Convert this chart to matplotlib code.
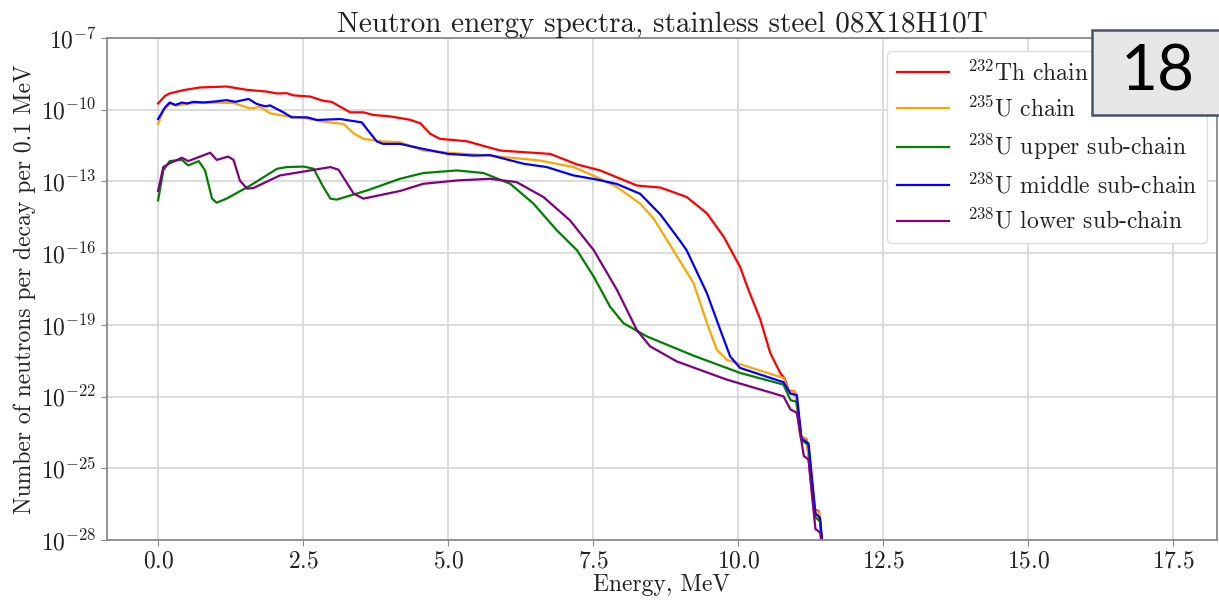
import numpy as np
import matplotlib
matplotlib.use('Agg')
import matplotlib.pyplot as plt
from matplotlib.patches import Rectangle

plt.rcParams['font.family'] = 'serif'
plt.rcParams['font.serif'] = ['cmr10']
plt.rcParams['mathtext.fontset'] = 'cm'
plt.rcParams['axes.formatter.use_mathtext'] = True

# energies (MeV) and log10 of neutrons per decay per 0.1 MeV
th232_e = [0, 0.12, 0.2, 0.44, 0.72, 1.18, 1.53, 1.87, 2.05, 2.22, 2.33, 2.62, 2.85, 2.99,
           3.31, 3.54, 3.71, 4.0, 4.34, 4.52, 4.69, 4.86, 5.32, 5.90, 6.76, 7.22, 7.62, 7.97,
           8.25, 8.66, 9.11, 9.46, 9.75, 10.03, 10.17, 10.38, 10.55, 10.72, 10.80, 10.87,
           10.98, 11.07, 11.18, 11.30, 11.39, 11.48]
th232_log = [-9.74, -9.42, -9.32, -9.18, -9.07, -9.03, -9.17, -9.24, -9.32, -9.31, -9.40,
             -9.45, -9.63, -9.67, -10.11, -10.11, -10.22, -10.28, -10.42, -10.57, -11.01,
             -11.22, -11.32, -11.71, -11.85, -12.29, -12.54, -12.89, -13.17, -13.26, -13.65,
             -14.34, -15.32, -16.57, -17.5, -18.78, -20.17, -21.0, -21.25, -21.75, -21.80,
             -23.65, -23.80, -26.70, -26.80, -29]

u235_e = [0, 0.09, 0.2, 0.32, 0.55, 0.78, 1.30, 1.59, 1.76, 1.93, 2.16, 2.45, 2.85, 3.20,
          3.37, 3.54, 3.88, 4.17, 4.57, 5.0, 5.72, 6.59, 7.16, 7.56, 7.91, 8.31, 8.54, 8.88,
          9.23, 9.46, 9.63, 9.80, 10.15, 10.78, 10.87, 10.98, 11.07, 11.18, 11.30, 11.39, 11.48]
u235_log = [-10.60, -10.04, -9.76, -9.83, -9.74, -9.70, -9.72, -9.95, -9.88, -10.15, -10.25,
            -10.32, -10.50, -10.60, -10.99, -11.22, -11.33, -11.36, -11.71, -11.80, -11.92,
            -12.13, -12.40, -12.82, -13.24, -13.93, -14.55, -15.88, -17.26, -18.93, -20.04,
            -20.46, -20.74, -21.22, -21.78, -21.80, -23.68, -23.82, -26.74, -26.83, -29]

u238_up_e = [0, 0.09, 0.2, 0.41, 0.52, 0.70, 0.81, 0.93, 1.01, 1.18, 1.59, 2.05, 2.22, 2.51,
             2.68, 2.85, 2.97, 3.08, 3.60, 4.17, 4.57, 5.15, 5.61, 6.07, 6.47, 6.87, 7.22,
             7.51, 7.79, 8.02, 8.43, 9.23, 10.03, 10.78, 10.90, 11.01, 11.09, 11.21, 11.33,
             11.41, 11.48]
u238_up_log = [-13.79, -12.54, -12.15, -12.10, -12.33, -12.15, -12.54, -13.72, -13.89, -13.72,
               -13.17, -12.47, -12.40, -12.38, -12.47, -13.24, -13.72, -13.76, -13.38, -12.89,
               -12.65, -12.54, -12.65, -13.10, -13.93, -15.04, -15.88, -16.99, -18.24, -18.93,
               -19.49, -20.29, -21.01, -21.50, -22.15, -22.22, -23.82, -24.03, -27.05, -27.22, -29]

u238_mid_e = [0, 0.12, 0.2, 0.30, 0.41, 0.50, 0.61, 0.78, 1.01, 1.18, 1.33, 1.56, 1.70, 1.85,
              1.93, 2.16, 2.30, 2.57, 2.74, 3.14, 3.51, 3.60, 3.77, 3.88, 4.17, 4.57, 5.0,
              5.44, 5.72, 6.30, 6.70, 7.16, 7.56, 7.91, 8.31, 8.66, 9.0, 9.11, 9.46, 9.69,
              9.86, 10.03, 10.38, 10.78, 10.90, 11.01, 11.09, 11.21, 11.33, 11.41, 11.48]
u238_mid_log = [-10.39, -9.90, -9.70, -9.80, -9.70, -9.74, -9.67, -9.70, -9.65, -9.60, -9.67,
                -9.55, -9.76, -9.86, -9.82, -10.11, -10.32, -10.32, -10.43, -10.39, -10.53,
                -10.81, -11.33, -11.43, -11.43, -11.64, -11.85, -11.92, -11.90, -12.26, -12.40,
                -12.75, -12.92, -13.11, -13.52, -14.39, -15.50, -15.88, -17.68, -19.21, -20.32,
                -20.80, -21.08, -21.40, -21.88, -21.94, -23.75, -23.96, -26.88, -27.08, -29]

u238_low_e = [0, 0.09, 0.2, 0.41, 0.52, 0.90, 1.01, 1.21, 1.30, 1.41, 1.53, 1.64, 2.10, 2.45,
              2.97, 3.11, 3.37, 3.54, 4.17, 4.57, 5.15, 5.72, 6.18, 6.64, 7.10, 7.51, 7.91,
              8.25, 8.48, 8.94, 9.80, 10.78, 10.90, 11.01, 11.13, 11.21, 11.33, 11.41, 11.48]
u238_low_log = [-13.40, -12.40, -12.24, -12.01, -12.15, -11.80, -12.10, -11.96, -12.10, -12.96,
                -13.30, -13.28, -12.75, -12.61, -12.40, -12.51, -13.51, -13.72, -13.40, -13.10,
                -12.96, -12.89, -13.03, -13.65, -14.63, -15.88, -17.54, -19.21, -19.90, -20.53,
                -21.29, -21.99, -22.54, -22.68, -24.49, -24.63, -27.54, -27.68, -29]

series = [
    (th232_e, th232_log, 'red', r'$^{232}$Th chain'),
    (u235_e, u235_log, 'orange', r'$^{235}$U chain'),
    (u238_up_e, u238_up_log, 'green', r'$^{238}$U upper sub-chain'),
    (u238_mid_e, u238_mid_log, 'blue', r'$^{238}$U middle sub-chain'),
    (u238_low_e, u238_low_log, 'purple', r'$^{238}$U lower sub-chain'),
]

fig = plt.figure(figsize=(12.19, 6.0), dpi=100)
ax = fig.add_axes([0.0878, 0.1, 0.9105, 0.8367])

for e, lg, color, label in series:
    ax.plot(e, 10.0 ** np.array(lg), color=color, lw=1.6, label=label)

ax.set_yscale('log')
ax.set_ylim(1e-28, 1e-7)
ax.set_xlim(-0.88, 18.25)
ax.set_yticks([10.0 ** k for k in range(-28, -6, 3)])
ax.minorticks_off()
ax.set_xticks(np.arange(0, 18, 2.5))
ax.grid(True, color='#d9d9d9', lw=1.3)
ax.set_axisbelow(True)
for s in ax.spines.values():
    s.set_color('#8a8a8a')
    s.set_linewidth(1.3)
ax.tick_params(colors='#8a8a8a', labelcolor='#222222', labelsize=17, length=4)

ax.set_title('Neutron energy spectra, stainless steel 08X18H10T', fontsize=21,
             color='#222222', pad=4)
ax.set_xlabel('Energy, MeV', fontsize=17, color='#222222', labelpad=1)
ax.set_ylabel('Number of neutrons per decay per 0.1 MeV', fontsize=17, color='#222222')

leg = ax.legend(loc='upper right', fontsize=17, bbox_to_anchor=(1207 / 1219, 1 - 51 / 600),
                bbox_transform=fig.transFigure, borderaxespad=0, handlelength=2.2,
                labelspacing=0.45, framealpha=1.0, edgecolor='#dddddd')
for t in leg.get_texts():
    t.set_color('#222222')

# slide number badge
fig.patches.append(Rectangle((0.896, 0.808), 0.2, 0.142, transform=fig.transFigure,
                             facecolor='#e7e7e7', edgecolor='#44546a', lw=1.8, zorder=10))
fig.text(0.950, 0.879, '18', family='Lato', fontsize=46, ha='center', va='center',
         color='black', zorder=11)

fig.savefig('out.png', dpi=100)
